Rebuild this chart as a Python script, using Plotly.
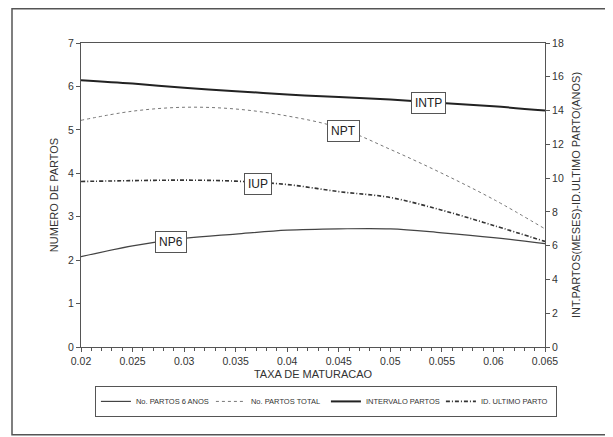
import plotly.graph_objects as go

taxa = [0.02, 0.025, 0.03, 0.035, 0.04, 0.045, 0.05, 0.055, 0.06, 0.065]
np6 = [2.08, 2.33, 2.50, 2.60, 2.69, 2.72, 2.72, 2.63, 2.52, 2.38]
npt = [5.22, 5.43, 5.52, 5.48, 5.32, 5.05, 4.55, 4.00, 3.40, 2.72]
intp = [15.80, 15.60, 15.35, 15.15, 14.95, 14.80, 14.65, 14.45, 14.25, 14.00]
iup = [9.80, 9.85, 9.88, 9.82, 9.62, 9.20, 8.85, 8.10, 7.20, 6.25]

names = ["No. PARTOS 6 ANOS", "No. PARTOS TOTAL", "INTERVALO PARTOS", "ID. ULTIMO PARTO"]
labels = ["NP6", "NPT", "INTP", "IUP"]
label_x = [0.0287, 0.0455, 0.0537, 0.0372]
label_y = [2.41, 4.98, 14.42, 3.75]
label_ref = ["y", "y", "y2", "y"]

FONT = "Arial, Liberation Sans, sans-serif"
fig = go.Figure()
fig.add_trace(go.Scatter(x=taxa, y=np6, name=names[0], mode="lines", line_shape="spline",
                         line=dict(color="#444444", width=1.2)))
fig.add_trace(go.Scatter(x=taxa, y=npt, name=names[1], mode="lines", line_shape="spline",
                         line=dict(color="#777777", width=1, dash="dot")))
fig.add_trace(go.Scatter(x=taxa, y=intp, name=names[2], mode="lines", line_shape="spline", yaxis="y2",
                         line=dict(color="#222222", width=2)))
fig.add_trace(go.Scatter(x=taxa, y=iup, name=names[3], mode="lines", line_shape="spline", yaxis="y2",
                         line=dict(color="#333333", width=1.6, dash="4px,2px,1px,2px")))

for t, lx, ly, ref in zip(labels, label_x, label_y, label_ref):
    fig.add_annotation(x=lx, y=ly, xref="x", yref=ref, text=t, showarrow=False,
                       font=dict(size=12, color="#222222", family=FONT),
                       bgcolor="white", bordercolor="#555555", borderwidth=1, borderpad=3)

# outer frame
fig.add_shape(type="rect", xref="paper", yref="paper", x0=-0.1487, x1=1.16, y0=-0.289, y1=1.113,
              line=dict(color="#555555", width=1.5), fillcolor="rgba(0,0,0,0)", layer="below")

axis_common = dict(showline=True, linecolor="#555555", linewidth=1, ticks="outside", ticklen=4,
                   tickcolor="#555555", showgrid=False, zeroline=False, automargin=False,
                   tickfont=dict(size=10.5, color="#333333", family=FONT))

fig.update_layout(
    width=605, height=429,
    margin=dict(l=73, r=68, t=35, b=90),
    paper_bgcolor="white", plot_bgcolor="white",
    font=dict(family=FONT, color="#333333"),
    xaxis=dict(range=[0.02, 0.065], dtick=0.005, tick0=0.02, mirror=True,
               minor=dict(dtick=0.001, ticks="outside", ticklen=3, tickcolor="#555555"),
               title=dict(text="TAXA DE MATURACAO", font=dict(size=11), standoff=4), **axis_common),
    yaxis=dict(range=[0, 7], dtick=1,
               title=dict(text="NUMERO DE PARTOS", font=dict(size=11), standoff=7), **axis_common),
    yaxis2=dict(range=[0, 18], dtick=2, overlaying="y", side="right",
                title=dict(text="INT.PARTOS(MESES)-ID.ULTIMO PARTO(ANOS)", font=dict(size=11), standoff=9),
                **axis_common),
    legend=dict(orientation="h", x=0.03, y=-0.128, xanchor="left", yanchor="top",
                bordercolor="#555555", borderwidth=1, font=dict(size=7.5, color="#333333"),
                itemwidth=30, entrywidth=70, entrywidthmode="pixels", tracegroupgap=0),
    showlegend=True,
)

fig.write_html("out.html")
